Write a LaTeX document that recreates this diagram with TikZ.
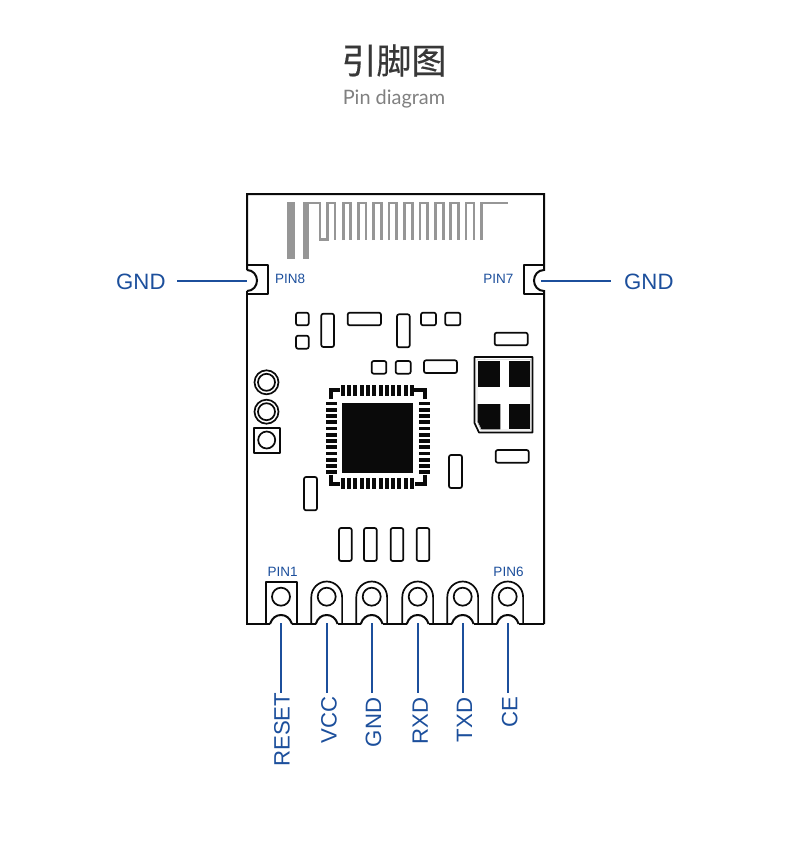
\documentclass[tikz,border=0pt]{standalone}
\usepackage{fontspec}
\setmainfont{Liberation Sans}
\newfontfamily\cjkfont[FakeBold=0.35]{Noto Sans CJK SC}
\newfontfamily\subfont{Lato}
\definecolor{pinblue}{HTML}{1C4F9C}
\definecolor{ink}{HTML}{0A0A0A}
\definecolor{antgray}{HTML}{969696}
\tikzset{
  ink line/.style={draw=ink,line width=1.7pt,line join=round},
  part/.style={ink line,fill=white,rounded corners=2pt},
  lead/.style={draw=pinblue,line width=2pt},
  pin label/.style={inner sep=0pt,text=pinblue,font=\fontsize{13.5}{15}\selectfont},
  wire label/.style={rotate=90,anchor=east,inner ysep=0pt,inner xsep=#1,text=pinblue,text height=16.5pt,text depth=0pt,font=\fontsize{22.2}{24}\selectfont},
  side label/.style={inner sep=0pt,text=pinblue,font=\fontsize{22.2}{24}\selectfont},
  ant/.style={draw=antgray,line width=2.8pt,line join=miter}
}
\begin{document}
\begin{tikzpicture}[x=1pt,y=-1pt]
\useasboundingbox (0,0) rectangle (790,841);
\fill[white] (0,0) rectangle (790,841);
% titles
\node[inner sep=0pt,text=black!78] (title) at (394,60.5) {\cjkfont\fontsize{35}{38}\selectfont 引脚图};
\node[inner sep=0pt,text=black!50] (subtitle) at (394,99) {\subfont\fontsize{19.9}{22}\selectfont Pin diagram};
% board
\draw[draw=ink,line width=2pt,fill=white,line join=miter]
  (247,270) -- (247,194) -- (544,194) -- (544,270)
  .. controls (538,270) and (534,275) .. (534,280.5)
  .. controls (534,286) and (538,291) .. (544,291)
  -- (544,624);
\draw[draw=ink,line width=2pt] (247,291) .. controls (253,291) and (257,286) .. (257,280.5)
  .. controls (257,275) and (253,270) .. (247,270);
\draw[draw=ink,line width=2pt] (247,291) -- (247,624) -- (270,624);
\foreach \a/\b in {292/315.7,337.7/360.7,382.7/406.7,428.7/451.7,473.7/496.7}
  \draw[draw=ink,line width=2pt] (\a,624) -- (\b,624);
\draw[draw=ink,line width=2pt] (518.7,624) -- (544,624);
\foreach \c in {281,326.7,371.7,417.7,462.7,507.7}
  \draw[draw=ink,line width=2pt] ({\c-11},624) .. controls ({\c-9},618) and ({\c-5},615) .. (\c,615)
     .. controls ({\c+5},615) and ({\c+9},618) .. ({\c+11},624);
% notch boxes
\draw[ink line] (247,265) -- (268,265) -- (268,294) -- (247,294);
\draw[ink line] (544,265) -- (524,265) -- (524,294) -- (544,294);
% antenna
\fill[antgray] (287.3,201.7) rectangle (295,259);
\fill[antgray] (302.7,201.7) rectangle (309,259);
\draw[ant] (303,203) -- (320,203) -- (320,239.5) -- (327.7,239.5) -- (327.7,203) -- (335,203) -- (335,240);
\foreach \a/\b in {343.3/350.7,358.3/366,373.3/381.3,389/396.7,404.3/412.3,420/427.7,435.3/443.3,450.7/458.3,466/474}
  \draw[ant] (\a,240) -- (\a,203) -- (\b,203) -- (\b,240);
\draw[ant] (481.7,240) -- (481.7,203) -- (508,203);
% small parts
\foreach \xa/\ya/\xb/\yb in {
  296/312.7/308.7/325.3, 296/335.7/308.7/348.7, 321.3/313.7/334/347,
  347.7/312.7/381/325.3, 397/314.3/409.7/347.3, 421/312.7/436/325.3,
  445.3/312.7/460.3/325.3, 494.7/332.7/527.7/345.3, 371.7/361/386.3/373.7,
  395.7/361/410.7/373.7, 424/360.3/457/373, 495.7/450/528.7/462.7,
  449/455/462/488, 304/477/317/510.3, 339/528/351.7/561,
  364/528/376.7/561, 390.7/528/403.3/561, 416.7/528/429.3/561}
  \draw[part] (\xa,\ya) rectangle (\xb,\yb);
% through holes
\foreach \yy in {382.3,411.7}{
  \draw[ink line] (266.5,\yy) circle[radius=12];
  \draw[ink line] (266.5,\yy) circle[radius=8.5];
}
\draw[ink line] (254,428) rectangle (280,453.3);
\draw[ink line] (266.7,440) circle[radius=8.5];
% chip
\fill[ink] (342.3,402.7) rectangle (412.7,472.7);
\foreach \i in {0,...,11}{
  \pgfmathsetmacro{\px}{342.7+6.3*\i}
  \pgfmathsetmacro{\py}{403.5+6.25*\i}
  \fill[ink] ({\px-2},385) rectangle ({\px+2},395.7);
  \fill[ink] ({\px-2},478.3) rectangle ({\px+2},489.3);
  \fill[ink] (326,{\py-1.9}) rectangle (336.7,{\py+1.9});
  \fill[ink] (419,{\py-1.9}) rectangle (429.7,{\py+1.9});
}
\draw[draw=ink,line width=3.2pt] (331,399) -- (331,390) -- (340,390);
\draw[draw=ink,line width=3.2pt] (331,474.5) -- (331,484) -- (340,484);
\draw[draw=ink,line width=3.2pt] (425,399) -- (425,390) -- (414,390);
\draw[draw=ink,line width=3.2pt] (425,474.5) -- (425,484) -- (415,484);
% shield component
\draw[ink line] (474.5,357) -- (532.5,357) -- (532.5,432.5) -- (479,432.5) -- (474.5,423) -- cycle;
\draw[draw=black!40,line width=.4pt] (477,359.5) -- (530.7,359.5) -- (530.7,430) -- (481,430) -- (477,421) -- cycle;
\fill[ink] (477.7,360.7) rectangle (500.3,387.3);
\fill[ink] (509,360.7) rectangle (530.3,387.3);
\fill[ink] (509,404) rectangle (530.3,429.3);
\fill[ink] (477.7,404) -- (500.3,404) -- (500.3,429.3) -- (481.5,429.3) -- (477.7,421.5) -- cycle;
% pads
\draw[ink line] (266,624) -- (266,582) -- (297,582) -- (297,624);
\coordinate (p1) at (281,623);
\draw[ink line] (281,596.7) circle[radius=9];
\foreach \c/\n in {326.7/p2,371.7/p3,417.7/p4,462.7/p5,507.7/p6}{
  \draw[ink line] ({\c-15.4},624) -- ({\c-15.4},597)
    .. controls ({\c-15.4},588.5) and ({\c-8.5},581.5) .. (\c,581.5)
    .. controls ({\c+8.5},581.5) and ({\c+15.4},588.5) .. ({\c+15.4},597) -- ({\c+15.4},624);
  \draw[ink line] (\c,596.7) circle[radius=9];
  \coordinate (\n) at (\c,623);
}
% pin numbers
\node[pin label,anchor=base west] (pin8) at (275,283.3) {PIN8};
\node[pin label,anchor=base east] (pin7) at (513.5,283.3) {PIN7};
\node[pin label,anchor=base] (pin1) at (282.7,576.3) {PIN1};
\node[pin label,anchor=base] (pin6) at (508.5,576.3) {PIN6};
% lower labels and leads
\node[wire label=0pt] (reset) at (281.3,692.5) {RESET};
\node[wire label=3.5pt] (vcc) at (328.3,693) {VCC};
\node[wire label=4.5pt] (gnd) at (372.8,693) {GND};
\node[wire label=4.5pt] (rxd) at (419.5,693) {RXD};
\node[wire label=4.5pt] (txd) at (463.8,693) {TXD};
\node[wire label=3.5pt] (ce) at (509,693) {CE};
\draw[lead] (p1) -- (p1 |- reset.east);
\draw[lead] (p2) -- (p2 |- vcc.east);
\draw[lead] (p3) -- (p3 |- gnd.east);
\draw[lead] (p4) -- (p4 |- rxd.east);
\draw[lead] (p5) -- (p5 |- txd.east);
\draw[lead] (p6) -- (p6 |- ce.east);
% side labels and leads
\coordinate (notchL) at (247,280.5);
\coordinate (notchR) at (541,281);
\node[side label,anchor=base west] (gndL) at (116,289.3) {GND};
\node[side label,anchor=base west] (gndR) at (624,289.3) {GND};
\coordinate (gndLend) at (177,280.5);
\coordinate (gndRend) at (611,281);
\draw[lead] (gndLend) -- (notchL);
\draw[lead] (notchR) -- (gndRend);
\end{tikzpicture}
\end{document}
